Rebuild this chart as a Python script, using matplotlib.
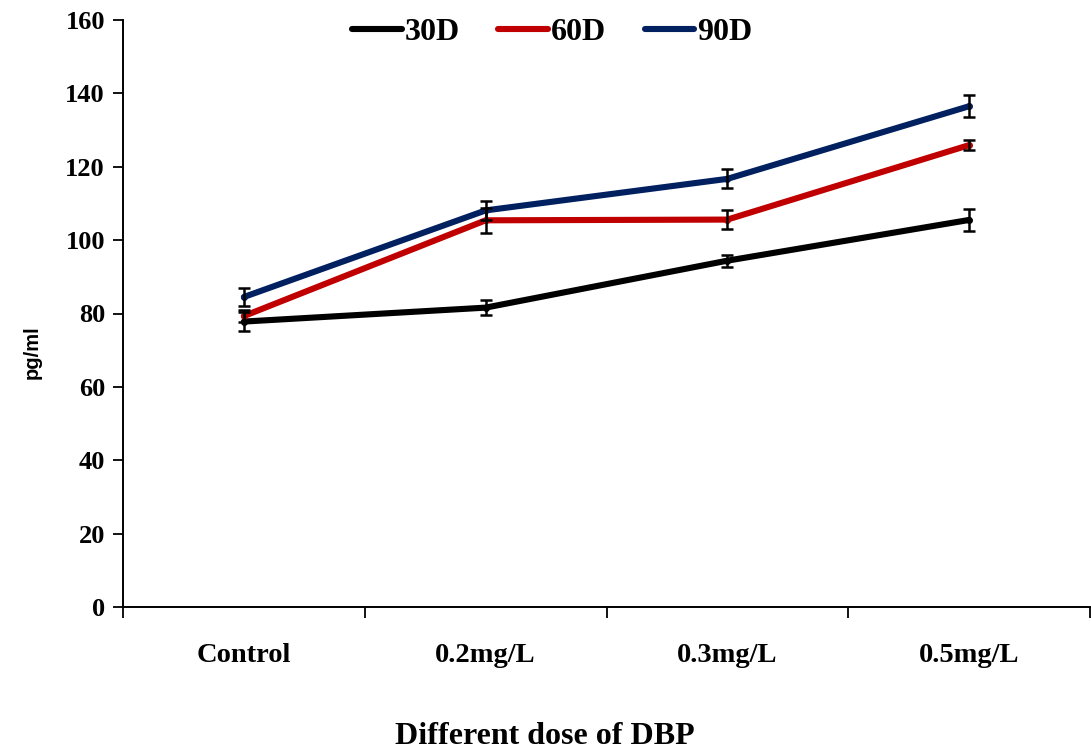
import matplotlib.pyplot as plt
import numpy as np

# data
doses = ['Control', '0.2mg/L', '0.3mg/L', '0.5mg/L']
d30 = [77.8, 81.6, 94.4, 105.5]
d60 = [79.3, 105.4, 105.6, 125.9]
d90 = [84.5, 108.1, 116.7, 136.5]
err30 = [2.7, 2.0, 1.6, 2.9]
err60 = [1.6, 3.4, 2.6, 1.3]
err90 = [2.5, 2.7, 2.6, 3.0]

serif = 'Liberation Serif'

fig = plt.figure(figsize=(10.91, 7.51), dpi=100)
ax = fig.add_axes([123 / 1091, 1 - 607 / 751, (1090 - 123) / 1091, (607 - 20) / 751])

x = np.arange(len(doses))
series = [(d30, err30, 'black', '30D'),
          (d60, err60, '#c00000', '60D'),
          (d90, err90, '#002060', '90D')]
for vals, err, col, lab in series:
    ax.plot(x, vals, color=col, lw=4.4, label=lab, marker='o', ms=4,
            solid_capstyle='round', solid_joinstyle='round', zorder=2)
for vals, err, col, lab in series:
    ax.errorbar(x, vals, yerr=err, fmt='none', ecolor='black', elinewidth=1.8,
                capsize=4.5, capthick=1.8, zorder=3)

ax.set_xlim(-0.5, 3.48)
ax.set_ylim(0, 160)
ax.set_yticks(range(0, 161, 20))
ax.set_xticks(x)
ax.set_xticklabels(doses, fontfamily=serif, fontweight='bold', fontsize=20.5)
ax.set_xticks(np.arange(-0.5, 3.6, 1), minor=True)
ax.tick_params(axis='x', which='major', length=0, pad=26)
ax.tick_params(axis='x', which='minor', length=8, width=1.3, direction='out')
ax.tick_params(axis='y', length=7, width=1.3, direction='out', pad=6)
for lbl in ax.get_yticklabels():
    lbl.set_fontfamily(serif)
    lbl.set_fontweight('bold')
    lbl.set_fontsize(19)

ax.spines['top'].set_visible(False)
ax.spines['right'].set_visible(False)
ax.spines['left'].set_linewidth(1.4)
ax.spines['bottom'].set_linewidth(1.4)

fig.text(32 / 1091, 1 - 352 / 751, 'pg/ml', rotation=90, ha='center', va='center',
         fontfamily='Liberation Sans', fontweight='bold', fontsize=14.5)
fig.text(545 / 1091, 1 - 736 / 751, 'Different dose of DBP', ha='center', va='center',
         fontfamily=serif, fontweight='bold', fontsize=23)

leg = ax.legend(loc='upper center', bbox_to_anchor=(0.444, 1.053), ncol=3, frameon=False,
                prop={'family': serif, 'weight': 'bold', 'size': 23},
                handlelength=1.55, columnspacing=1.2, handletextpad=0.1)
for h in leg.legend_handles:
    h.set_marker('')

fig.savefig('out.png', dpi=100)
